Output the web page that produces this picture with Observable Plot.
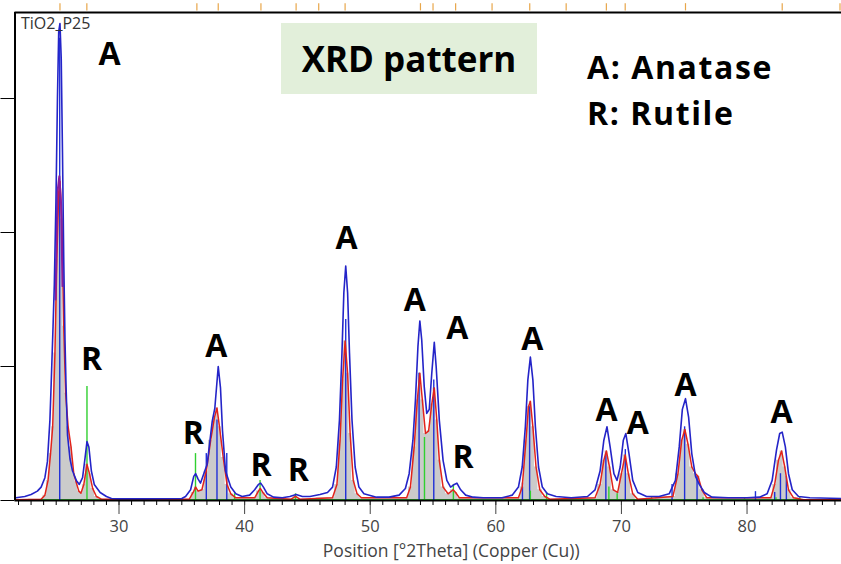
<!DOCTYPE html>
<html>
<head>
<meta charset="utf-8">
<script src="https://cdn.jsdelivr.net/npm/d3@7"></script>
<script src="https://cdn.jsdelivr.net/npm/@observablehq/plot@0.6"></script>
<style>
  body { margin: 0; background: #fff; }
  #wrap { position: relative; width: 841px; height: 564px; overflow: hidden; }
  .ov { position: absolute; font-family: "Open Sans", sans-serif; color: #000; white-space: nowrap; }
</style>
</head>
<body>
<div id="wrap"></div>
<script>
// ---- Data (2θ in degrees, intensity in axis-tick units) ----
const obsTheta = [21.8,22.5,23.0,23.5,23.8,24.1,24.3,24.5,24.6,24.75,24.85,24.98,25.1,25.2,25.3,25.4,25.5,25.6,25.7,25.78,25.9,26.1,26.3,26.6,26.84,27.1,27.3,27.45,27.6,27.8,28.03,28.5,29.0,29.4,30,32,35.0,35.3,35.7,35.95,36.1,36.3,36.49,36.75,37.02,37.42,37.63,37.9,38.08,38.24,38.48,38.9,39.3,39.8,40.4,40.8,41.1,41.28,41.5,41.8,42.3,43.0,43.6,44.1,44.6,45.2,46.0,46.6,47.0,47.3,47.55,47.75,47.9,48.05,48.2,48.35,48.55,48.8,49.1,49.5,50.5,51.5,52.3,52.8,53.1,53.4,53.6,53.8,53.95,54.1,54.3,54.5,54.7,54.9,55.1,55.25,55.5,55.8,56.1,56.4,56.7,56.9,57.2,57.6,58.2,59,60.5,61.3,61.8,62.1,62.35,62.55,62.75,62.95,63.15,63.4,63.7,64.1,64.8,66,67.3,67.9,68.3,68.6,68.85,69.1,69.4,69.65,69.9,70.15,70.35,70.6,70.9,71.3,72,73,73.8,74.3,74.6,74.85,75.1,75.35,75.6,75.9,76.2,76.6,77.2,78.5,80,81,81.6,82.0,82.35,82.6,82.8,83.05,83.3,83.6,84.1,85,87.5];
const obsIntensity = [0.02,0.03,0.045,0.07,0.10,0.17,0.29,0.60,0.87,1.3,1.61,2.23,3.0,3.5,3.56,3.3,2.6,1.8,1.2,0.87,0.49,0.31,0.22,0.15,0.12,0.17,0.32,0.44,0.40,0.22,0.12,0.06,0.03,0.015,0.012,0.012,0.015,0.03,0.08,0.18,0.2,0.16,0.13,0.2,0.27,0.59,0.69,1.0,0.84,0.52,0.22,0.1,0.05,0.03,0.04,0.08,0.12,0.13,0.1,0.05,0.025,0.02,0.03,0.045,0.03,0.03,0.045,0.06,0.1,0.25,0.6,1.1,1.55,1.75,1.55,1.1,0.6,0.25,0.1,0.05,0.025,0.025,0.04,0.09,0.2,0.45,0.75,1.15,1.34,1.2,0.85,0.65,0.68,0.95,1.18,1.0,0.6,0.3,0.15,0.1,0.12,0.13,0.08,0.04,0.025,0.02,0.02,0.04,0.1,0.25,0.55,0.9,1.07,0.9,0.55,0.25,0.1,0.05,0.03,0.02,0.03,0.08,0.22,0.45,0.55,0.4,0.2,0.15,0.25,0.45,0.5,0.35,0.15,0.06,0.03,0.03,0.05,0.15,0.4,0.68,0.76,0.62,0.35,0.18,0.12,0.06,0.025,0.02,0.02,0.025,0.05,0.15,0.38,0.5,0.51,0.4,0.2,0.08,0.03,0.02,0.015];

const calcTheta = [21.8,23.8,24.1,24.35,24.55,24.72,24.9,25.05,25.2,25.3,25.45,25.6,25.75,25.95,26.18,26.4,26.58,26.8,26.97,27.2,27.45,27.65,27.9,28.2,28.6,35.6,35.9,36.1,36.3,36.6,36.95,37.3,37.6,37.8,38.0,38.3,38.6,38.9,39.3,40.8,41.1,41.25,41.45,41.8,43.7,44.05,44.4,47.0,47.35,47.6,47.8,48.0,48.2,48.4,48.65,48.95,49.3,52.9,53.2,53.5,53.75,53.95,54.15,54.4,54.65,54.9,55.1,55.3,55.5,55.8,56.2,56.6,56.8,57.1,61.8,62.1,62.4,62.6,62.75,62.95,63.2,63.5,63.9,64.3,67.9,68.3,68.6,68.8,69.05,69.35,69.7,70.0,70.3,70.55,70.9,71.3,74.1,74.5,74.8,75.05,75.3,75.6,75.9,76.1,76.4,76.8,81.9,82.2,82.5,82.75,83.0,83.3,83.7,84.5,87.5];
const calcIntensity = [0.005,0.01,0.04,0.15,0.35,0.55,1.1,1.8,2.3,2.38,2.1,1.3,0.8,0.55,0.4,0.2,0.14,0.07,0.055,0.12,0.27,0.2,0.09,0.03,0.01,0.01,0.06,0.1,0.07,0.08,0.22,0.45,0.62,0.69,0.55,0.32,0.12,0.05,0.02,0.02,0.07,0.09,0.06,0.02,0.01,0.03,0.01,0.02,0.12,0.45,0.9,1.19,0.95,0.5,0.15,0.05,0.02,0.02,0.1,0.4,0.75,0.95,0.75,0.5,0.52,0.72,0.84,0.6,0.3,0.1,0.05,0.08,0.06,0.02,0.02,0.1,0.45,0.7,0.74,0.55,0.25,0.08,0.03,0.01,0.02,0.12,0.3,0.37,0.25,0.08,0.06,0.2,0.34,0.2,0.05,0.01,0.03,0.2,0.45,0.53,0.42,0.25,0.2,0.18,0.08,0.02,0.02,0.12,0.3,0.37,0.25,0.08,0.02,0.005,0.005];

const purpleTheta = [24.95,25.1,25.25,25.4,25.5];
const purpleIntensity = [1.5,2.3,2.42,2.2,1.6];

const anataseSticks = [25.28,36.95,37.8,38.58,48.05,53.89,55.06,62.12,62.69,68.76,70.31,74.03,75.03,76.02,80.67,82.2,82.66,83.13];
const anataseHeights = [3.45,0.35,0.6,0.35,1.35,0.95,0.9,0.13,0.7,0.35,0.38,0.12,0.55,0.18,0.066,0.06,0.2,0.18];
const rutileSticks = [27.45,36.09,39.2,41.23,44.05,54.32,56.62,62.75,64.04,69.0,69.66,72.4,76.5,79.8,82.3,84.2];
const rutileHeights = [0.85,0.35,0.05,0.15,0.05,0.47,0.12,0.07,0.06,0.1,0.05,0.03,0.02,0.02,0.02,0.03];

const refTicks = [25.3,27.44,36.2,37.9,41.3,44.1,45.9,48.0,54.0,55.0,56.8,59.7,62.7,65.6,68.8,70.3,75.1,82.8,87.4];

const peakLabels = ["A","R","R","A","R","R","A","A","A","R","A","A","A","A","A"];
const peakLabelTheta = [29.24,27.81,35.91,37.74,41.3,44.27,48.11,53.55,56.93,57.4,62.9,68.81,71.3,75.1,82.75];
const peakLabelY = [3.33,1.05,0.5,1.15,0.26,0.22,1.95,1.49,1.28,0.32,1.2,0.67,0.57,0.855,0.655];

const xMajorTicks = [30,40,50,60,70,80];
const xMinorTicks = d3.range(22,88);
const yTicks = [0,1,2,3];

// ---- Build tables ----
const obs = obsTheta.map((t,i)=>({t, v: obsIntensity[i]}));
const calc = calcTheta.map((t,i)=>({t, v: calcIntensity[i]}));
const purple = purpleTheta.map((t,i)=>({t, v: purpleIntensity[i]}));
const ana = anataseSticks.map((t,i)=>({t, v: anataseHeights[i]}));
const rut = rutileSticks.map((t,i)=>({t, v: rutileHeights[i]}));
const labels = peakLabels.map((s,i)=>({s, t: peakLabelTheta[i], v: peakLabelY[i]}));

const yTop = 3.642;
const chart = Plot.plot({
  width: 841, height: 564,
  marginLeft: 14.5, marginRight: 0, marginTop: 12, marginBottom: 64,
  style: {fontFamily: "Open Sans, sans-serif", background: "white", overflow: "visible"},
  x: {domain: [21.72, 87.52]},
  y: {domain: [0, yTop]},
  marks: [
    Plot.areaY(calc, {x: "t", y: "v", fill: "#cbcbcb", curve: "step"}),
    Plot.ruleY([0.006], {stroke: "#3cc83c", strokeWidth: 1.2}),
    Plot.ruleX(ana, {x: "t", y1: 0, y2: "v", stroke: "#2030d8", strokeWidth: 1.4}),
    Plot.ruleX(rut, {x: "t", y1: 0, y2: "v", stroke: "#30d030", strokeWidth: 1.4}),
    Plot.line(calc, {x: "t", y: "v", stroke: "#e2231a", strokeWidth: 1.5}),
    Plot.line(purple, {x: "t", y: "v", stroke: "#8a1c9c", strokeWidth: 2}),
    Plot.line(obs, {x: "t", y: "v", stroke: "#2424c8", strokeWidth: 1.6}),
    Plot.ruleX(refTicks, {y1: yTop + 0.012, y2: yTop + 0.066, stroke: "#e8a64a", strokeWidth: 1.2, clip: false}),
    Plot.text(labels, {x: "t", y: "v", text: "s", fontSize: 32, fontWeight: "bold", fill: "#000", fontFamily: "Open Sans, sans-serif"}),
    Plot.axisX({ticks: xMinorTicks, tickSize: 5, tickFormat: () => "", label: null, stroke: "#000"}),
    Plot.axisX({ticks: xMajorTicks, tickSize: 14, tickPadding: 6, fontSize: 16.5, color: "#444", tickFormat: d => d,
      label: "Position [°2Theta] (Copper (Cu))", labelAnchor: "center", labelArrow: "none", labelOffset: 56}),
    Plot.axisY({ticks: yTicks, tickSize: 14, tickFormat: () => "", label: null}),
    Plot.ruleY([0], {stroke: "#000", strokeWidth: 2}),
    Plot.ruleY([yTop], {stroke: "#000", strokeWidth: 2}),
    Plot.ruleX([21.72], {stroke: "#000", strokeWidth: 2})
  ]
});
chart.querySelectorAll("[aria-label='x-axis label']").forEach(g => {
  g.setAttribute("font-size", 17.5); g.setAttribute("fill", "#444");
  const tr = g.getAttribute("transform") || "";
  g.setAttribute("transform", "translate(23,0) " + tr);
});
const wrap = document.getElementById("wrap");
wrap.appendChild(chart);

function ov(html, css) { const d = document.createElement("div"); d.className = "ov"; d.innerHTML = html; Object.assign(d.style, css); wrap.appendChild(d); return d; }
ov("TiO2_P25", {left: "21px", top: "12px", fontSize: "16px", color: "#333", lineHeight: "22px"});
ov("XRD pattern", {left: "281px", top: "23px", width: "256px", height: "71px", background: "#e2efda", fontSize: "35px", fontWeight: "bold", textAlign: "center", lineHeight: "71px"});
ov("A: Anatase", {left: "587px", top: "47px", fontSize: "32px", fontWeight: "bold", lineHeight: "40px", letterSpacing: "1.6px"});
ov("R: Rutile", {left: "587px", top: "93px", fontSize: "32px", fontWeight: "bold", lineHeight: "40px", letterSpacing: "1.6px"});
</script>
</body>
</html>
